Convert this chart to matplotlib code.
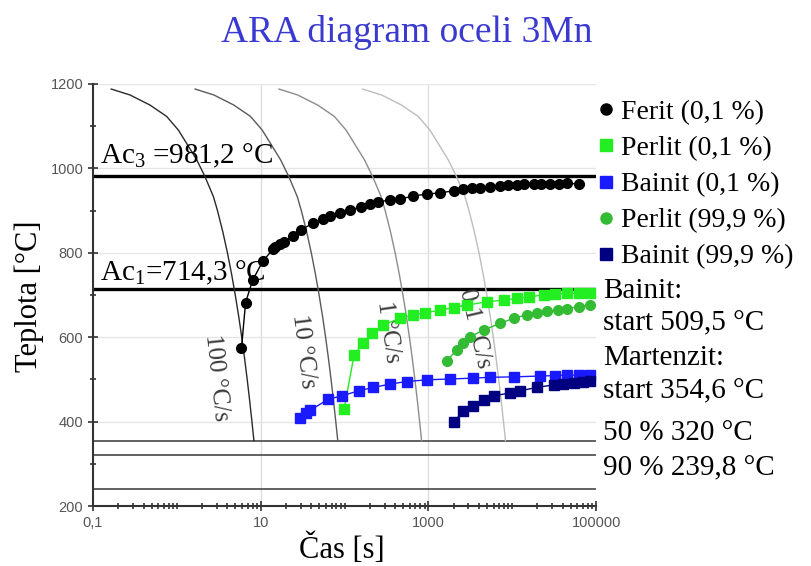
import matplotlib
matplotlib.use("Agg")
import matplotlib.pyplot as plt
from matplotlib.lines import Line2D
from matplotlib.ticker import FixedLocator, NullFormatter

plt.rcParams['font.family'] = ['Liberation Serif', 'DejaVu Serif']
plt.rcParams['mathtext.fontset'] = 'custom'
plt.rcParams['mathtext.rm'] = 'Liberation Serif'
plt.rcParams['mathtext.it'] = 'Liberation Serif:italic'

# ochlazovaci krivky (cas [s] pri teplote [°C])
cool_T = [1188, 1174, 1150, 1123, 1091, 1059, 1020, 980, 933, 900, 850, 800,
          750, 700, 650, 600, 550, 500, 450, 400, 354.6]
cool_t_100 = [0.165, 0.276, 0.479, 0.757, 1.04, 1.31, 1.73, 2.17, 2.73, 3.05,
              3.53, 4.01, 4.49, 4.97, 5.46, 5.94, 6.42, 6.90, 7.38, 7.86, 8.30]
cool_t_10 = [1.65, 2.76, 4.79, 7.57, 10.4, 13.1, 17.3, 21.7, 27.3, 30.5,
             35.3, 40.1, 44.9, 49.7, 54.6, 59.4, 64.2, 69.0, 73.8, 78.6, 83.0]
cool_t_1 = [16.5, 27.6, 47.9, 75.7, 104, 131, 173, 217, 273, 305,
            353, 401, 449, 497, 546, 594, 642, 690, 738, 786, 830]
cool_t_01 = [165, 276, 479, 757, 1040, 1310, 1730, 2170, 2730, 3050,
             3530, 4010, 4490, 4970, 5460, 5940, 6420, 6900, 7380, 7860, 8300]
cool_labels = ['100 °C/s', '10 °C/s', '1 °C/s', '0,1 °C/s']

# Ferit (0,1 %)
ferit_t = [5.9, 6.6, 8.0, 10.6, 13.9, 14.8, 17, 19.2, 24, 30, 42, 55, 67, 88,
           117, 155, 202, 254, 350, 460, 664, 960, 1380, 2000, 2600, 3300,
           4150, 5500, 7200, 9000, 11400, 14000, 18000, 22000, 28400, 36000,
           45000, 62000]
ferit_T = [574, 682, 735, 780, 808, 814, 820, 826, 840, 854, 870, 880, 888, 894,
           901, 909, 916, 921, 925, 927, 935, 939, 942, 947, 950, 953,
           954, 956, 958, 960, 961, 962, 963, 963, 963, 964,
           965, 963]

# Perlit (0,1 %)
perlit1_t = [99, 130, 168, 211, 291, 461, 664, 917, 1380, 2000, 2880, 5000,
             8000, 11400, 16000, 23600, 32000, 45000, 62000, 85000]
perlit1_T = [431, 558, 586, 609, 629, 645, 653, 658, 664, 670, 676, 684,
             688, 692, 696, 700, 702, 704, 704, 705]

# Perlit (99,9 %)
perlit9_t = [1660, 2180, 2620, 3150, 4550, 7190, 10400, 15000, 20000, 25900,
             35000, 45000, 62000, 85000]
perlit9_T = [544, 570, 586, 601, 617, 633, 645, 653, 657, 661,
             665, 668, 672, 676]

# Bainit (0,1 %)
bainit1_t = [29.5, 35, 39, 64, 93, 147, 221, 350, 553, 960, 1820, 3450, 5460,
             10400, 21600, 32000, 45000, 62000, 85000]
bainit1_T = [408, 420, 427, 453, 461, 473, 481, 489, 495, 499, 501, 503, 505,
             506, 508, 509, 510, 510, 510]

# Bainit (99,9 %)
bainit9_t = [2000, 2620, 3450, 4550, 6000, 9460, 12400, 19700, 31200, 40000,
             54100, 70000, 85300]
bainit9_T = [400, 424, 437, 451, 461, 468, 473, 481, 487, 490,
             492, 494, 496]

Ac3 = 981.2
Ac1 = 714.3
Ms = 354.6
M50 = 320
M90 = 239.8

fig = plt.figure(figsize=(8.11, 5.66), dpi=100)
ax = fig.add_axes([0.1147, 0.106, 0.6203, 0.7456])

ax.set_xscale('log')
ax.set_xlim(0.1, 100000)
ax.set_ylim(200, 1200)

# mrizka
for gx in [10, 1000]:
    ax.axvline(gx, color='#dddddd', lw=1, zorder=0)
for gy in [400, 600, 800, 1000, 1200]:
    ax.axhline(gy, color='#e6e6e6', lw=1, zorder=0)

# vodorovne cary
ax.axhline(Ac3, color='black', lw=2.4, zorder=2)
ax.axhline(Ac1, color='black', lw=2.4, zorder=2)
for v in [Ms, M50, M90]:
    ax.axhline(v, color='#555555', lw=1.3, zorder=2)

# ochlazovaci krivky
cool_colors = ['#2a2a2a', '#5a5a5a', '#8c8c8c', '#bdbdbd']
for tt, c in zip([cool_t_100, cool_t_10, cool_t_1, cool_t_01], cool_colors):
    ax.plot(tt, cool_T, color=c, lw=1.0, zorder=3)

lab_kw = dict(fontsize=18, ha='center', va='center', color='#3a3a3a', zorder=4)
ax.text(2.94, 503, cool_labels[0], rotation=-84, **lab_kw)
ax.text(32, 567, cool_labels[1], rotation=-83, **lab_kw)
ax.text(331, 612, cool_labels[2], rotation=-82, **lab_kw)
ax.text(3610, 622, cool_labels[3], rotation=-77, **lab_kw)

# data
ax.plot(ferit_t, ferit_T, color='black', lw=1, marker='o', ms=7, zorder=5)
ax.plot(perlit1_t, perlit1_T, color='#22ee22', lw=1, marker='s', ms=7, zorder=5)
ax.plot(perlit9_t, perlit9_T, color='#33bb33', lw=1, marker='o', ms=7, zorder=5)
ax.plot(bainit1_t, bainit1_T, color='#1a1aff', lw=1, marker='s', ms=7, zorder=5)
ax.plot(bainit9_t, bainit9_T, color='#000080', lw=1, marker='s', ms=7, zorder=5)

ax.text(0.121, 1013, r'Ac$_3$ =981,2 °C', fontsize=21, ha='left', va='baseline')
ax.text(0.121, 734, r'Ac$_1$=714,3 °C', fontsize=21, ha='left', va='baseline')

# osy
ax.xaxis.set_major_locator(FixedLocator([0.1, 10, 1000, 100000]))
ax.set_xticklabels(['0,1', '10', '1000', '100000'])
minor_x = []
for dec in [0.1, 1, 10, 100, 1000, 10000]:
    minor_x += [dec * k for k in range(2, 10)]
minor_x += [1, 100, 10000]
ax.xaxis.set_minor_locator(FixedLocator(minor_x))
ax.xaxis.set_minor_formatter(NullFormatter())
ax.set_yticks([200, 400, 600, 800, 1000, 1200])
ax.yaxis.set_minor_locator(FixedLocator([300, 500, 700, 900, 1100]))
ax.tick_params(which='both', direction='inout', colors='#333333',
               labelcolor='#555555', labelsize=10.5)
ax.tick_params(which='major', length=7, width=1.2)
ax.tick_params(which='minor', length=5, width=1.2)
for lab in ax.get_xticklabels() + ax.get_yticklabels():
    lab.set_family(['Liberation Sans'])
ax.spines['top'].set_visible(False)
ax.spines['right'].set_visible(False)
ax.spines['left'].set_color('#333333')
ax.spines['bottom'].set_color('#333333')
ax.spines['left'].set_linewidth(1.5)
ax.spines['bottom'].set_linewidth(1.5)

fig.text(0.501, 0.942, 'ARA diagram oceli 3Mn', fontsize=27, color='#3a3ad0',
         ha='center', va='center')
fig.text(0.036, 0.477, 'Teplota [°C]', fontsize=22, rotation=90,
         ha='center', va='center')
fig.text(0.421, 0.030, 'Čas [s]', fontsize=22, ha='center', va='center')

handles = [
    Line2D([], [], ls='none', marker='o', color='black', ms=8),
    Line2D([], [], ls='none', marker='s', color='#22ee22', ms=8),
    Line2D([], [], ls='none', marker='s', color='#1a1aff', ms=8),
    Line2D([], [], ls='none', marker='o', color='#33bb33', ms=8),
    Line2D([], [], ls='none', marker='s', color='#000080', ms=8),
]
names = ['Ferit (0,1 %)', 'Perlit (0,1 %)', 'Bainit (0,1 %)',
         'Perlit (99,9 %)', 'Bainit (99,9 %)']
fig.legend(handles, names, loc='upper left', bbox_to_anchor=(0.737, 0.824),
           frameon=False, fontsize=20, handlelength=0.6, handletextpad=0.25,
           labelspacing=0.385, borderpad=0, borderaxespad=0)

side = ['Bainit:', 'start 509,5 °C', 'Martenzit:', 'start 354,6 °C',
        '50 % 320 °C', '90 % 239,8 °C']
side_y = [291, 323, 358, 391, 433, 468]
for s, yy in zip(side, side_y):
    fig.text(603 / 811, 1 - yy / 566, s, fontsize=21, ha='left', va='center')

fig.savefig('out.png', dpi=100)
